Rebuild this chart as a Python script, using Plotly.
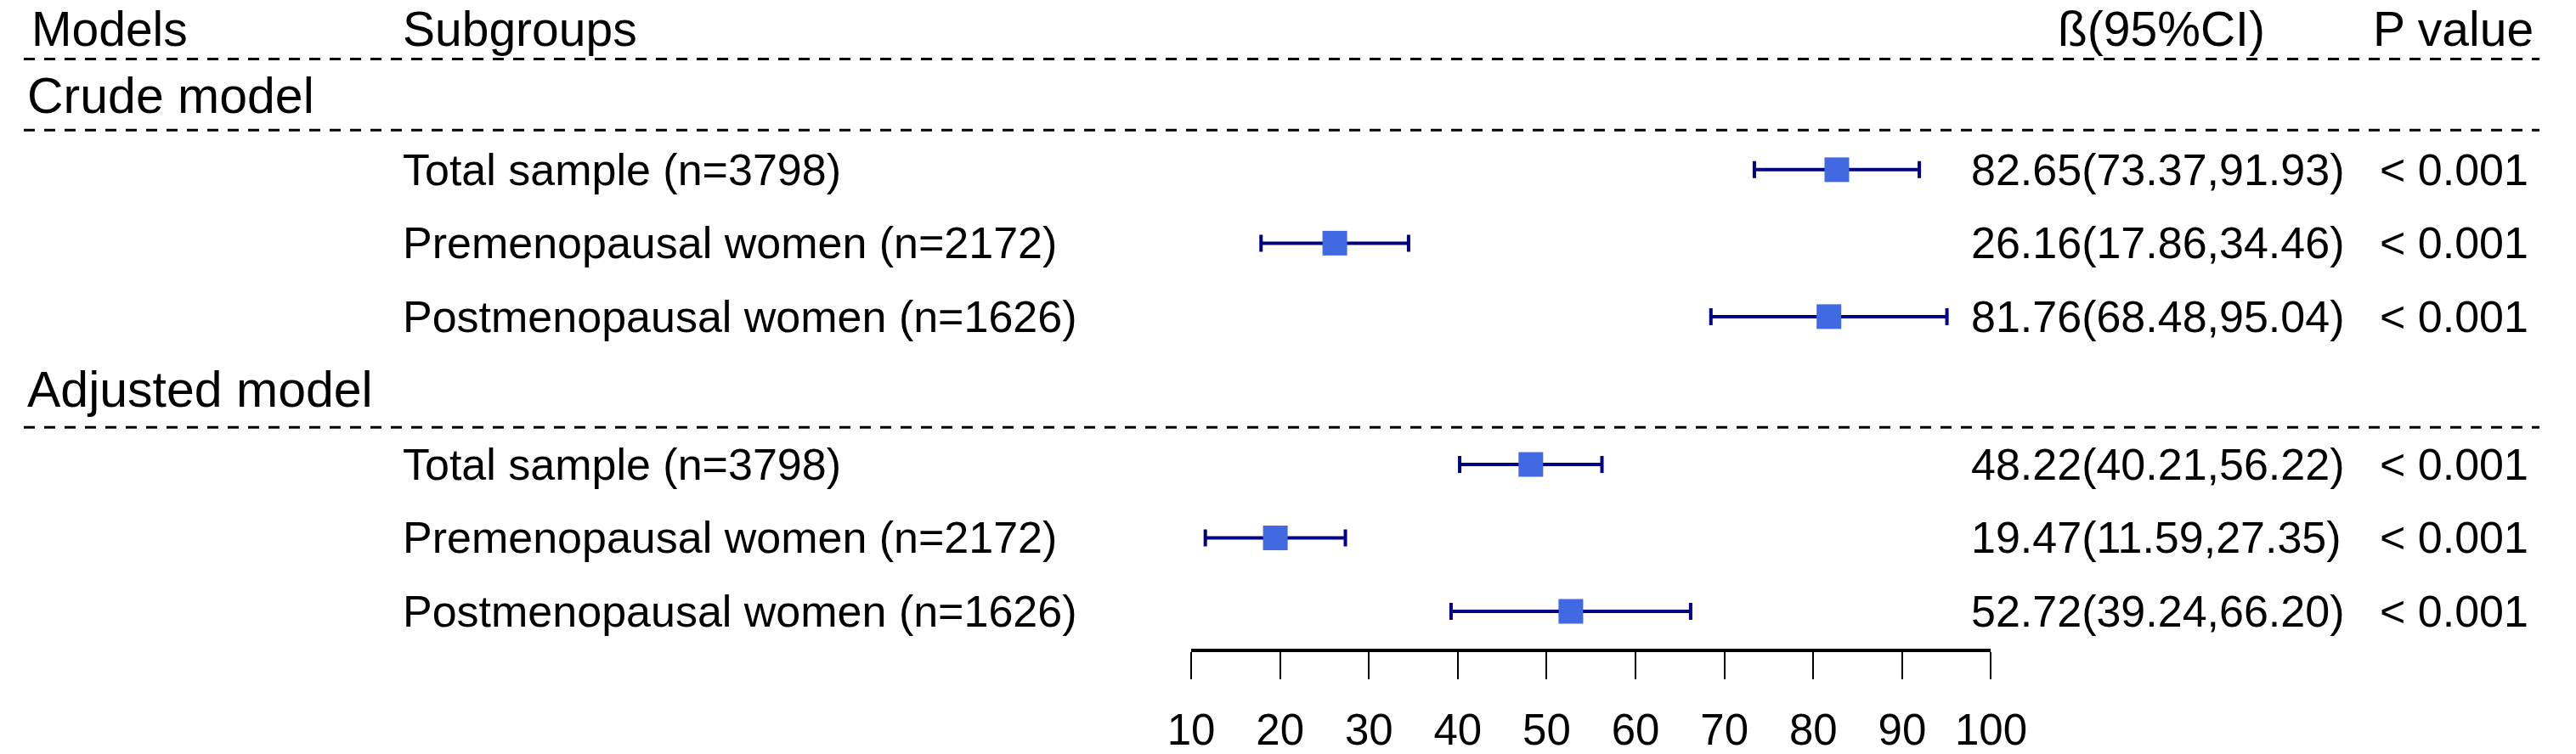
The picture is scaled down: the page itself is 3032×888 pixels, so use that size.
import plotly.graph_objects as go

# ---- data ----
models = ["Crude model", "Adjusted model"]
subgroups = ["Total sample (n=3798)", "Premenopausal women (n=2172)", "Postmenopausal women (n=1626)"]
beta = [82.65, 26.16, 81.76, 48.22, 19.47, 52.72]
lower = [73.37, 17.86, 68.48, 40.21, 11.59, 39.24]
upper = [91.93, 34.46, 95.04, 56.22, 27.35, 66.20]
p_values = ["< 0.001"] * 6
tick_vals = [10, 20, 30, 40, 50, 60, 70, 80, 90, 100]
headers = ["Models", "Subgroups", "ß(95%CI)", "P value"]

W, H = 3032, 888
FONT = "Liberation Sans, Arial, Helvetica, sans-serif"

# layout positions (pixels)
axis_y = 768
header_y = 34
group_y = [114, 462]
row_y = [201, 288, 375, 550, 637, 724]
dash_y = [70, 154, 506]
x10, x100 = 1407, 2371

ci_text = [f"{b:.2f}({l:.2f},{u:.2f})" for b, l, u in zip(beta, lower, upper)]

fig = go.Figure()
fig.add_trace(go.Scatter(
    x=beta, y=row_y, mode="markers",
    marker=dict(symbol="square", size=29, color="#4169E1", line=dict(width=0)),
    error_x=dict(type="data", symmetric=False,
                 array=[u - b for u, b in zip(upper, beta)],
                 arrayminus=[b - l for b, l in zip(beta, lower)],
                 color="#000080", thickness=4, width=10),
    showlegend=False, hoverinfo="skip",
))

ann = []
def txt(x, y, s, size=52, anchor="left"):
    ann.append(dict(x=x / W, y=y, xref="paper", yref="y", text=s, showarrow=False,
                    xanchor=anchor, yanchor="middle", borderpad=0,
                    font=dict(family=FONT, size=size, color="black")))

hx = [8, 456, 2450, 2830]
for h, x in zip(headers, hx):
    txt(x, header_y, h, size=57)
for g, y in zip(models, group_y):
    txt(3, y, g, size=59)
labels = subgroups + subgroups
for i, y in enumerate(row_y):
    txt(456, y, labels[i], size=52)
    txt(2346, y, ci_text[i], size=52)
    txt(2838, y, p_values[i], size=52)

shapes = []
for y in dash_y:
    shapes.append(dict(type="line", xref="paper", yref="y", x0=0, x1=1, y0=y, y1=y,
                       line=dict(color="black", width=3, dash="13px,11px")))

fig.update_layout(
    width=W, height=H, margin=dict(l=0, r=0, t=0, b=0),
    paper_bgcolor="white", plot_bgcolor="white",
    annotations=ann, shapes=shapes,
    xaxis=dict(domain=[x10 / W, x100 / W], range=[10, 100], showgrid=False, zeroline=False,
               showline=True, linecolor="black", linewidth=4,
               ticks="outside", ticklen=32, tickwidth=2, tickcolor="black",
               tickvals=tick_vals, ticktext=[str(t) for t in tick_vals],
               tickfont=dict(family=FONT, size=51, color="black"), ticklabelstandoff=16),
    yaxis=dict(domain=[(H - axis_y) / H, 1], range=[axis_y, 0], visible=False),
)
fig.write_html("out.html", config={"displayModeBar": False},
               post_script="document.body.style.margin='0';document.body.style.overflow='hidden';")
